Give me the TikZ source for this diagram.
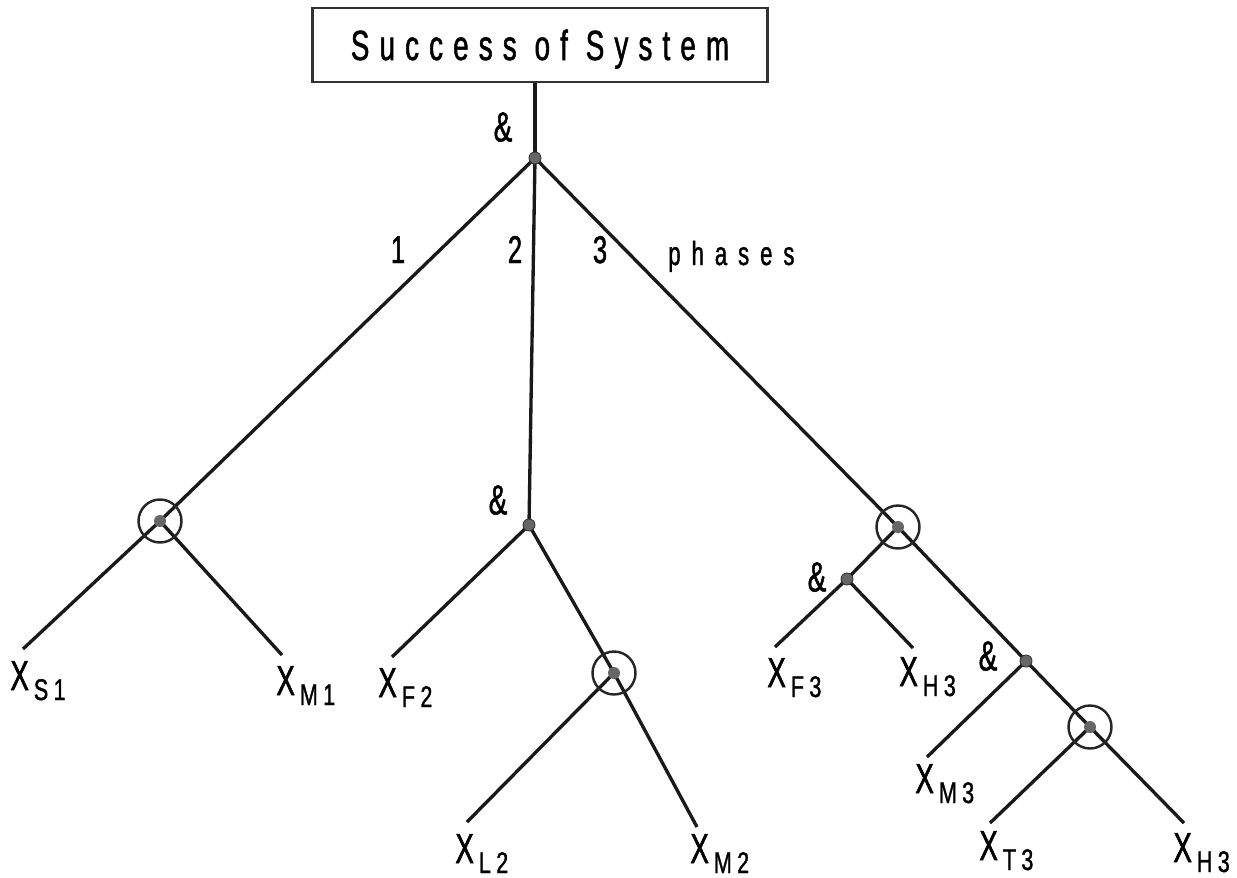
\documentclass[tikz,border=0pt]{standalone}
\usepackage{fontspec}
\setmainfont{Liberation Sans}[FakeStretch=0.66, LetterSpace=18, FakeBold=1.2]
\newfontfamily\subfont{Liberation Sans}[FakeStretch=0.72, LetterSpace=18, FakeBold=1.2]
\usetikzlibrary{calc}
\pgfdeclarelayer{bg}
\pgfsetlayers{bg,main}
\newcommand\xs[1]{X\kern0.1cm\raisebox{-0.2cm}{\subfont\fontsize{17}{17}\selectfont #1}}
\begin{document}
\begin{tikzpicture}[x=0.02cm,y=-0.02cm,
  ln/.style={line width=1.9pt, black!90},
  dotn/.style={circle, fill=black!60, draw=black!80, line width=0.5pt, inner sep=0pt, minimum size=0.24cm},
  orn/.style={circle, draw=black!85, line width=1.4pt, inner sep=0pt, minimum size=0.86cm,
    path picture={\fill[black!60] (path picture bounding box.center) circle (0.12cm);}},
  lbl/.style={inner sep=0pt, font=\fontsize{24}{24}\selectfont},
  leaf/.style={inner sep=0pt, anchor=base west, font=\fontsize{24}{24}\selectfont},
  titlebox/.style={draw=black!80, line width=1.2pt, minimum width=9.1cm, minimum height=1.48cm,
    inner sep=0pt, text height=0.6cm, text depth=0pt,
    font=\fontsize{24}{24}\selectfont\addfontfeature{LetterSpace=24}}]
\useasboundingbox (0,0) rectangle (1237,877);

% title
\node[titlebox] (sys) at (540,45) {Success of System};

% gates
\node[dotn] (top) at (535,158) {};
\node[orn] (c1) at (160,521) {};
\node[dotn] (a2) at (529,525) {};
\node[orn] (c2) at (614,673) {};
\node[orn] (c3) at (898,527) {};
\node[dotn] (a3) at (847,579) {};
\node[dotn] (a4) at (1026,661) {};
\node[orn] (c4) at (1090,727) {};

% leaf ends
\coordinate (eS1) at (23,649);
\coordinate (eM1) at (282,655);
\coordinate (eF2) at (392,657);
\coordinate (eL2) at (467,822);
\coordinate (eM2) at (697,827);
\coordinate (eF3) at (775,647);
\coordinate (eH3a) at (913,648);
\coordinate (eM3) at (927,757);
\coordinate (eT3) at (990,823);
\coordinate (eH3b) at (1184,823);

\begin{pgfonlayer}{bg}
\draw[ln] (top.center |- sys.south) -- (top.center);
\draw[ln] (top.center) -- (c1.center);
\draw[ln] (top.center) -- (a2.center);
\draw[ln] (top.center) -- (c3.center);
\draw[ln] (c1.center) -- (eS1);
\draw[ln] (c1.center) -- (eM1);
\draw[ln] (a2.center) -- (eF2);
\draw[ln] (a2.center) -- (c2.center);
\draw[ln] (c2.center) -- (eL2);
\draw[ln] (c2.center) -- (eM2);
\draw[ln] (c3.center) -- (a3.center);
\draw[ln] (a3.center) -- (eF3);
\draw[ln] (a3.center) -- (eH3a);
\draw[ln] (c3.center) -- (a4.center);
\draw[ln] (a4.center) -- (eM3);
\draw[ln] (a4.center) -- (c4.center);
\draw[ln] (c4.center) -- (eT3);
\draw[ln] (c4.center) -- (eH3b);
\end{pgfonlayer}

% labels
\node[lbl] (amp1) at (503,127) {\&};
\node[lbl] (amp2) at (498,500) {\&};
\node[lbl] (amp3) at (817,577) {\&};
\node[lbl] (amp4) at (988,656) {\&};
\node[lbl, anchor=base, font=\fontsize{22}{22}\selectfont] (p1) at (398,263) {1};
\node[lbl, anchor=base, font=\fontsize{22}{22}\selectfont] (p2) at (515,263) {2};
\node[lbl, anchor=base, font=\fontsize{22}{22}\selectfont] (p3) at (600,263) {3};
\node[lbl, anchor=base west, font=\fontsize{19}{19}\selectfont\addfontfeature{LetterSpace=33}] (ph) at (668,265) {phases};

% leaves
\node[leaf] (xS1) at (10,690) {\xs{S1}};
\node[leaf] (xM1) at (276,695) {\xs{M1}};
\node[leaf] (xF2) at (378,697) {\xs{F2}};
\node[leaf] (xL2) at (455,863) {\xs{L2}};
\node[leaf] (xM2) at (690,863) {\xs{M2}};
\node[leaf] (xF3) at (767,687) {\xs{F3}};
\node[leaf] (xH3a) at (899,686) {\xs{H3}};
\node[leaf] (xM3) at (915,793) {\xs{M3}};
\node[leaf] (xT3) at (979,860) {\xs{T3}};
\node[leaf] (xH3b) at (1173,862) {\xs{H3}};
\end{tikzpicture}
\end{document}
